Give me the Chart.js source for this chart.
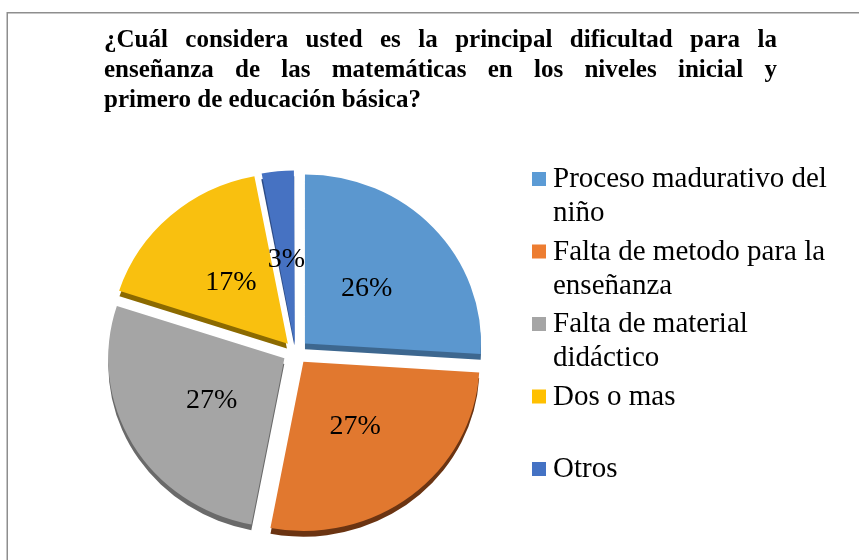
<!DOCTYPE html>
<html>
<head>
<meta charset="utf-8">
<script src="https://cdn.jsdelivr.net/npm/chart.js@4"></script>
<style>
  body { margin: 0; background: #fff; }
  canvas { display: block; }
</style>
</head>
<body>
<canvas id="myChart" width="859" height="560"></canvas>
<script>
var titleLines = [
  "¿Cuál considera usted es la principal dificultad para la",
  "enseñanza de las matemáticas en los niveles inicial y",
  "primero de educación básica?",
];

var categories = [
  "Proceso madurativo del niño",
  "Falta de metodo para la enseñanza",
  "Falta de material didáctico",
  "Dos o mas",
  "Otros",
];

var percents = [26, 27, 27, 17, 3];

var faceColors = ["#5b97cf", "#e1782f", "#a5a5a5", "#f9c00f", "#4672c2"];
var sideColors = ["#3d678f", "#6b3412", "#6a6a6a", "#8c6a00", "#2d4c86"];
var legendColors = ["#5b9bd5", "#ed7d31", "#a5a5a5", "#ffc000", "#4472c4"];

var SERIF = '"Liberation Serif", "Times New Roman", serif';
var EXPLODE = 52; // chart.js offset, about 13px of real shift
var DEPTH = 6;
var SQUASH = 0.96;

function wrapWords(ctx, text, maxWidth) {
  var words = text.split(" ");
  var lines = [];
  var line = "";
  words.forEach(function (w) {
    var test = line ? line + " " + w : w;
    if (ctx.measureText(test).width > maxWidth && line) {
      lines.push(line);
      line = w;
    } else {
      line = test;
    }
  });
  if (line) lines.push(line);
  return lines;
}

// same shift as ArcElement.draw uses for offset
function arcShift(arc) {
  var off = (arc.options.offset || 0) / 4;
  var circ = arc.endAngle - arc.startAngle;
  var fix = 1 - Math.sin(Math.min(Math.PI, circ));
  var d = off * (1 + fix);
  var mid = (arc.startAngle + arc.endAngle) / 2;
  return { x: Math.cos(mid) * d, y: Math.sin(mid) * d, mid: mid };
}

var framePlugin = {
  id: "frame",
  beforeDraw: function (chart) {
    var ctx = chart.ctx;
    ctx.save();
    ctx.strokeStyle = "#8e8e8e";
    ctx.lineWidth = 1.5;
    ctx.strokeRect(7.25, 12.75, 1000, 1000);
    ctx.restore();
  },
};

var titlePlugin = {
  id: "justTitle",
  afterDraw: function (chart) {
    var ctx = chart.ctx;
    var left = 104, right = 777, top = 47, lh = 30;
    ctx.save();
    ctx.font = "bold 25px " + SERIF;
    ctx.fillStyle = "#000";
    ctx.textBaseline = "alphabetic";
    titleLines.forEach(function (line, i) {
      var y = top + i * lh;
      var words = line.split(" ");
      if (i === titleLines.length - 1) {
        ctx.fillText(line, left, y);
        return;
      }
      var total = 0;
      words.forEach(function (w) { total += ctx.measureText(w).width; });
      var gap = (right - left - total) / (words.length - 1);
      var x = left;
      words.forEach(function (w) {
        ctx.fillText(w, x, y);
        x += ctx.measureText(w).width + gap;
      });
    });
    ctx.restore();
  },
};

var depthPlugin = {
  id: "depth",
  beforeDatasetsDraw: function (chart) {
    var ctx = chart.ctx;
    var meta = chart.getDatasetMeta(0);
    var a0 = meta.data[0];
    ctx.save();
    // slight tilt of the pie
    ctx.translate(0, a0.y);
    ctx.scale(1, SQUASH);
    ctx.translate(0, -a0.y);
    meta.data.forEach(function (arc, i) {
      var s = arcShift(arc);
      var cx = arc.x + s.x, cy = arc.y + s.y + DEPTH;
      ctx.beginPath();
      ctx.moveTo(cx, cy);
      ctx.arc(cx, cy, arc.outerRadius, arc.startAngle, arc.endAngle);
      ctx.closePath();
      ctx.fillStyle = sideColors[i];
      ctx.fill();
    });
  },
  afterDatasetsDraw: function (chart) {
    chart.ctx.restore();
  },
};

var labelPlugin = {
  id: "sliceLabels",
  afterDatasetsDraw: function (chart) {
    var ctx = chart.ctx;
    var meta = chart.getDatasetMeta(0);
    ctx.save();
    ctx.font = "28px " + SERIF;
    ctx.fillStyle = "#000";
    ctx.textAlign = "center";
    ctx.textBaseline = "middle";
    meta.data.forEach(function (arc, i) {
      var s = arcShift(arc);
      var r = arc.outerRadius * 0.48;
      var x = arc.x + s.x + Math.cos(s.mid) * r;
      var y = arc.y + (s.y + Math.sin(s.mid) * r) * SQUASH;
      ctx.fillText(percents[i] + "%", x, y + 1);
    });
    ctx.restore();
  },
};

var legendPlugin = {
  id: "sideLegend",
  afterDraw: function (chart) {
    var ctx = chart.ctx;
    ctx.save();
    ctx.font = "29px " + SERIF;
    ctx.textBaseline = "alphabetic";
    categories.forEach(function (label, i) {
      var base = 187 + i * 72.5;
      ctx.fillStyle = legendColors[i];
      ctx.fillRect(532, base - 15, 14, 14);
      ctx.fillStyle = "#000";
      var lines = wrapWords(ctx, label, 285);
      lines.forEach(function (line, j) {
        ctx.fillText(line, 553, base + j * 34);
      });
    });
    ctx.restore();
  },
};

window.onload = function () {
  var ctx = document.getElementById("myChart").getContext("2d");
  new Chart(ctx, {
    type: "pie",
    data: {
      labels: categories,
      datasets: [
        {
          data: percents,
          backgroundColor: faceColors,
          borderWidth: 0,
          offset: function (c) {
            // keep the real shift equal for every slice
            var v = c.raw / 100 * Math.PI * 2;
            var fix = 1 - Math.sin(Math.min(Math.PI, v));
            return EXPLODE / (1 + fix);
          },
        },
      ],
    },
    options: {
      responsive: false,
      animation: false,
      layout: {
        padding: { left: 93, top: 150, right: 361, bottom: 6 },
      },
      plugins: {
        legend: { display: false },
        title: { display: false },
        tooltip: { enabled: false },
      },
    },
    plugins: [framePlugin, titlePlugin, depthPlugin, labelPlugin, legendPlugin],
  });
};
</script>
</body>
</html>
